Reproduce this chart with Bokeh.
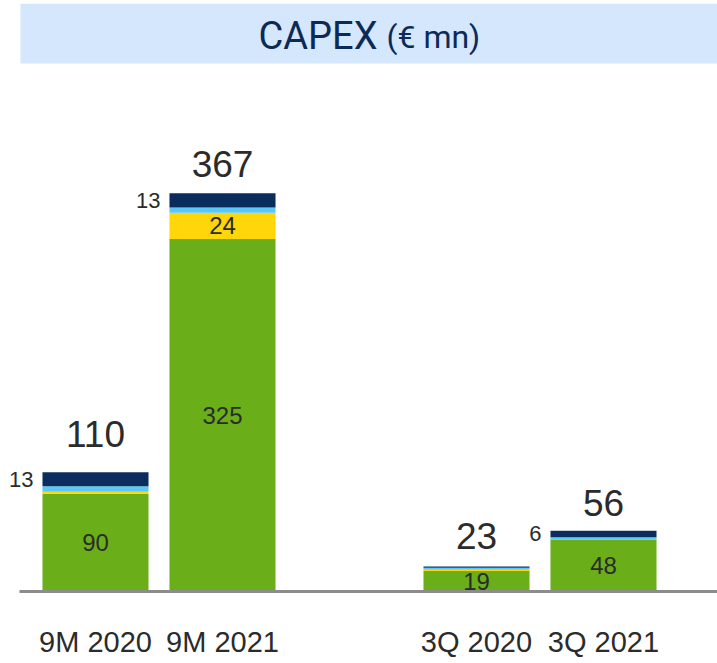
from bokeh.plotting import figure
from bokeh.models import Range1d, BoxAnnotation, Label
from bokeh.core.properties import value
from bokeh.embed import file_html
from bokeh.resources import INLINE

# ---------------- data ----------------
categories = ["9M 2020", "9M 2021", "3Q 2020", "3Q 2021"]
x_pos = [0, 1, 3, 4]
green = [90, 325, 19, 48]
yellow = [2, 24, 1, 0]
light_blue = [5, 5, 2, 2]
navy = [13, 13, 1, 6]
totals = [110, 367, 23, 56]
side_labels = ["13", "13", "", "6"]

# ---------------- style / layout ----------------
C_GREEN = "#6AAF1A"
C_YELLOW = "#FFD60A"
C_LBLUE = "#5AC8F5"
C_NAVY = "#0B2D5E"
C_BAND = "#D4E7FD"
C_TITLE = "#0C2A57"
C_TEXT = "#2B2B2B"
C_AXIS = "#8C8C8C"

W, H = 717, 663
TOP = 3
PX_X = 127.0          # pixels per x unit
X_START = -95.0 / PX_X
PX_Y = 1.085          # pixels per EUR mn
BASE = 591            # canvas y of the zero line
BAR_W = 0.835
total_gap_px = [38, 29, 31, 28]   # bar top -> centre of total label

X_END = X_START + W / PX_X
Y_END = (BASE - TOP) / PX_Y
Y_START = -(H - BASE) / PX_Y


def dx(px):
    return X_START + px / PX_X


def dy(px):
    return (BASE - px) / PX_Y


p = figure(width=W, height=H, output_backend="svg", toolbar_location=None,
           x_range=Range1d(X_START, X_END), y_range=Range1d(Y_START, Y_END),
           x_axis_location=None, y_axis_location=None,
           min_border_left=0, min_border_right=0,
           min_border_top=TOP, min_border_bottom=0)
p.outline_line_color = None
p.grid.visible = False
p.background_fill_color = "white"
p.border_fill_color = "white"

# title band
p.add_layout(BoxAnnotation(left=dx(20), bottom=dy(63), fill_color=C_BAND, fill_alpha=1.0,
                           line_color=None, level="underlay"))
p.add_layout(Label(x=dx(377), y=dy(35), text="CAPEX", text_align="right",
                   text_baseline="middle", text_font="Roboto",
                   text_font_size="38px", text_color=C_TITLE))
p.add_layout(Label(x=dx(386), y=dy(36), text="(€ mn)", text_align="left",
                   text_baseline="middle", text_font="Roboto",
                   text_font_size="32px", text_color=C_TITLE))

# stacked bars
p.vbar_stack(["green", "yellow", "light_blue", "navy"], x="x", width=BAR_W,
             source=dict(x=x_pos, green=green, yellow=yellow,
                         light_blue=light_blue, navy=navy),
             fill_color=[C_GREEN, C_YELLOW, C_LBLUE, C_NAVY], line_color=None)

# baseline
p.add_layout(BoxAnnotation(left=dx(19), top=dy(589.5), bottom=dy(592.5),
                           fill_color=C_AXIS, fill_alpha=1.0, line_color=None))

font = value("Liberation Sans")

# labels inside segments
in_x, in_y, in_t = [], [], []
for i in range(len(x_pos)):
    in_x.append(x_pos[i]); in_y.append(green[i] / 2); in_t.append(str(green[i]))
    if yellow[i] >= 10:
        in_x.append(x_pos[i]); in_y.append(green[i] + yellow[i] / 2); in_t.append(str(yellow[i]))
p.text(x=in_x, y=in_y, text=in_t, text_align="center", text_baseline="middle",
       text_font=font, text_font_size="24px", text_color=C_TEXT)

# side labels next to the top segments
sx, sy, st = [], [], []
for i in range(len(x_pos)):
    if side_labels[i]:
        sx.append(x_pos[i] - BAR_W / 2)
        sy.append(green[i] + yellow[i] + light_blue[i] + navy[i] / 2)
        st.append(side_labels[i])
p.text(x=sx, y=sy, text=st, x_offset=-9, text_align="right", text_baseline="middle",
       text_font=font, text_font_size="22px", text_color=C_TEXT)

# totals
ty = [totals[i] + total_gap_px[i] / PX_Y for i in range(len(totals))]
p.text(x=x_pos, y=ty, text=[str(v) for v in totals],
       text_align="center", text_baseline="middle",
       text_font=font, text_font_size="37px", text_color=C_TEXT)

# category labels
p.text(x=x_pos, y=[0] * len(x_pos), text=categories, y_offset=50,
       text_align="center", text_baseline="middle",
       text_font=font, text_font_size="29px", text_color=C_TEXT)

open("out.html", "w").write(file_html(p, INLINE))
